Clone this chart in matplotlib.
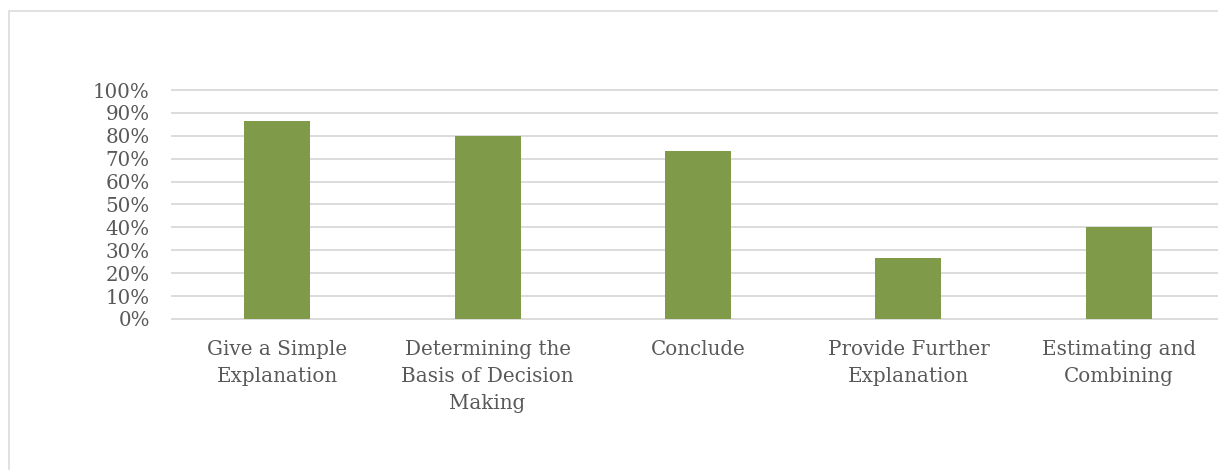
import matplotlib.pyplot as plt
from matplotlib.patches import Rectangle
from matplotlib.ticker import PercentFormatter

categories = ['Give a Simple\nExplanation',
              'Determining the\nBasis of Decision\nMaking',
              'Conclude',
              'Provide Further\nExplanation',
              'Estimating and\nCombining']
values = [86.67, 80.0, 73.33, 26.67, 40.0]
y_ticks = list(range(0, 101, 10))

text_color = '#595959'
grid_color = '#d9d9d9'
bar_color = '#7f9a48'

plt.rcParams['font.family'] = ['DejaVu Serif']

fig = plt.figure(figsize=(12.18, 4.70), dpi=100)
ax = fig.add_axes([172 / 1218, 1 - 319 / 470, 1052 / 1218, 229 / 470])

x = range(len(categories))
ax.bar(x, values, width=0.314, color=bar_color, zorder=3)

ax.set_xlim(-0.5, len(categories) - 0.5)
ax.set_ylim(0, 100)
ax.set_yticks(y_ticks)
ax.yaxis.set_major_formatter(PercentFormatter(decimals=0))
ax.set_xticks(list(x))
ax.set_xticklabels(categories)

ax.grid(axis='y', color=grid_color, linewidth=1.3, zorder=0)
for gl in ax.get_ygridlines():
    gl.set_clip_on(False)
for s in ax.spines.values():
    s.set_visible(False)
ax.tick_params(axis='both', length=0, colors=text_color, labelsize=14.3)
ax.tick_params(axis='y', pad=16)
ax.tick_params(axis='x', pad=15)
for lbl in ax.get_xticklabels():
    lbl.set_linespacing(1.55)

# outer chart frame (clipped by the image edge on right and bottom)
frame = Rectangle((9 / 1218, -0.1), 1.5, 1.1 - 11 / 470, transform=fig.transFigure,
                  fill=False, edgecolor=grid_color, linewidth=1.1)
fig.patches.append(frame)

fig.savefig('out.png', dpi=100)
